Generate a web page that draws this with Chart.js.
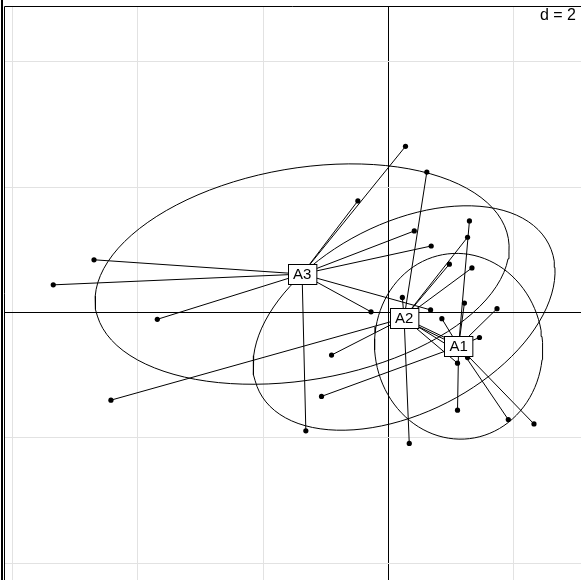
<!DOCTYPE html>
<html>
<head>
<meta charset="utf-8">
<script src="https://cdn.jsdelivr.net/npm/chart.js@4.4.1/dist/chart.umd.min.js"></script>
<style>
  body { margin: 0; background: #fff; }
  canvas { display: block; }
</style>
</head>
<body>
<canvas id="plot" width="581" height="580"></canvas>
<script>
// classes
var groups = ['A1', 'A2', 'A3'];

// rows of each class (first two axes)
var a1X = [1.29, -1.07, 1.73, 1.21, 0.85, 1.45, 1.10, 1.91, 2.32, 0.38];
var a1Y = [1.46, -1.34, 0.06, 0.15, -0.10, -0.40, -1.56, -1.71, -1.78, -0.18];
var a2X = [0.61, 0.22, -4.43, -0.91, 0.33, 0.97, 1.26, 1.33, 1.10, 1.26, 0.98];
var a2Y = [2.24, 0.24, -1.40, -0.68, -2.09, 0.77, 1.20, 0.71, -0.81, -0.72, -0.44];
var a3X = [-4.70, -5.35, -3.69, -1.32, -0.49, 0.27, 0.41, 0.68, -0.28, 0.67];
var a3Y = [0.84, 0.44, -0.11, -1.89, 1.78, 2.65, 1.30, 1.06, 0.01, 0.04];

// grid
var xTicks = [-6, -4, -2, 0, 2];
var yTicks = [-4, -2, 0, 2, 4];
var gridStep = 2;
var xRange = [-6.12, 3.07];
var yRange = [-4.27, 4.89];
var cellipse = 1.5;

var classX = [a1X, a2X, a3X];
var classY = [a1Y, a2Y, a3Y];

function mean(v) {
	var s = 0;
	for (var i = 0; i < v.length; i++) s += v[i];
	return s / v.length;
}

// centre of gravity + ellipse from the (uniform weight) covariance
function classStats(xs, ys) {
	var mx = mean(xs), my = mean(ys);
	var vx = 0, vy = 0, cxy = 0;
	for (var i = 0; i < xs.length; i++) {
		vx += (xs[i] - mx) * (xs[i] - mx);
		vy += (ys[i] - my) * (ys[i] - my);
		cxy += (xs[i] - mx) * (ys[i] - my);
	}
	vx /= xs.length; vy /= xs.length; cxy /= xs.length;
	var delta = Math.sqrt((vx - vy) * (vx - vy) + 4 * cxy * cxy);
	var l1 = (vx + vy + delta) / 2;
	var l2 = vx + vy - l1;
	var ang = 0.5 * Math.atan2(2 * cxy, vx - vy);
	var a = Math.sqrt(Math.max(l1, 0)), b = Math.sqrt(Math.max(l2, 0));
	var ell = [];
	for (var k = 0; k <= 100; k++) {
		var t = 2 * Math.PI * k / 100;
		var u = cellipse * a * Math.cos(t), w = cellipse * b * Math.sin(t);
		ell.push({
			x: mx + u * Math.cos(ang) - w * Math.sin(ang),
			y: my + u * Math.sin(ang) + w * Math.cos(ang)
		});
	}
	return { mx: mx, my: my, ellipse: ell };
}

var stats = [];
var datasets = [];
for (var g = 0; g < groups.length; g++) {
	var xs = classX[g], ys = classY[g];
	var st = classStats(xs, ys);
	stats.push(st);

	datasets.push({
		label: groups[g] + ' ellipse',
		data: st.ellipse,
		showLine: true,
		pointRadius: 0,
		borderColor: '#000',
		borderWidth: 1,
		tension: 0,
		fill: false,
		order: 3
	});

	var pts = [];
	for (var i = 0; i < xs.length; i++) {
		pts.push({ x: xs[i], y: ys[i] });
		datasets.push({
			label: groups[g] + ' star',
			data: [{ x: xs[i], y: ys[i] }, { x: st.mx, y: st.my }],
			showLine: true,
			pointRadius: 0,
			borderColor: '#000',
			borderWidth: 1,
			order: 2
		});
	}

	datasets.push({
		label: groups[g],
		data: pts,
		pointRadius: 2.6,
		pointBackgroundColor: '#000',
		pointBorderWidth: 0,
		showLine: false,
		order: 1
	});
}

var framePlugin = {
	id: 'frame',
	beforeDatasetsDraw: function (chart) {
		var ctx = chart.ctx, a = chart.chartArea;
		ctx.save();
		ctx.strokeStyle = '#000';
		ctx.lineWidth = 1;
		ctx.beginPath();
		ctx.moveTo(a.left - 0.5, chart.height);
		ctx.lineTo(a.left - 0.5, a.top + 0.5);
		ctx.lineTo(chart.width, a.top + 0.5);
		ctx.stroke();
		ctx.lineWidth = 2;
		ctx.beginPath();
		ctx.moveTo(2, 0);
		ctx.lineTo(2, chart.height);
		ctx.stroke();
		ctx.restore();
	},
	afterDatasetsDraw: function (chart) {
		var ctx = chart.ctx, a = chart.chartArea;
		var xs = chart.scales.x, ys = chart.scales.y;
		ctx.save();
		ctx.font = '15px "Liberation Sans", Arial, sans-serif';
		ctx.textAlign = 'center';
		ctx.textBaseline = 'middle';
		for (var g = 0; g < groups.length; g++) {
			var px = xs.getPixelForValue(stats[g].mx);
			var py = ys.getPixelForValue(stats[g].my);
			var w = ctx.measureText(groups[g]).width + 10;
			var h = 20;
			var bx = Math.round(px - w / 2) + 0.5, by = Math.round(py - h / 2) + 0.5;
			ctx.fillStyle = '#fff';
			ctx.fillRect(bx, by, w, h);
			ctx.strokeStyle = '#000';
			ctx.lineWidth = 1;
			ctx.strokeRect(bx, by, w, h);
			ctx.fillStyle = '#000';
			ctx.fillText(groups[g], px, py + 1);
		}
		// scale label
		ctx.font = '16px "Liberation Sans", Arial, sans-serif';
		ctx.textAlign = 'right';
		ctx.textBaseline = 'alphabetic';
		var txt = 'd = ' + gridStep;
		var tw = ctx.measureText(txt).width;
		var rx = chart.width - 5;
		ctx.fillStyle = '#fff';
		ctx.fillRect(rx - tw - 4, a.top + 2, tw + 6, 18);
		ctx.fillStyle = '#000';
		ctx.fillText(txt, rx, a.top + 14);
		ctx.restore();
	}
};

function gridColor(c) {
	return c.tick && c.tick.value === 0 ? '#000' : '#e2e2e2';
}

new Chart(document.getElementById('plot'), {
	type: 'scatter',
	data: { datasets: datasets },
	options: {
		responsive: false,
		animation: false,
		layout: { autoPadding: false, padding: { left: 5, top: 6, right: 0, bottom: 0 } },
		plugins: { legend: { display: false }, tooltip: { enabled: false } },
		scales: {
			x: {
				type: 'linear',
				min: xRange[0],
				max: xRange[1],
				afterBuildTicks: function (scale) {
					scale.ticks = xTicks.map(function (v) { return { value: v }; });
				},
				ticks: { display: false },
				grid: { color: gridColor, lineWidth: 1, drawTicks: false },
				border: { display: false }
			},
			y: {
				type: 'linear',
				min: yRange[0],
				max: yRange[1],
				afterBuildTicks: function (scale) {
					scale.ticks = yTicks.map(function (v) { return { value: v }; });
				},
				ticks: { display: false },
				grid: { color: gridColor, lineWidth: 1, drawTicks: false },
				border: { display: false }
			}
		}
	},
	plugins: [framePlugin]
});
</script>
</body>
</html>
